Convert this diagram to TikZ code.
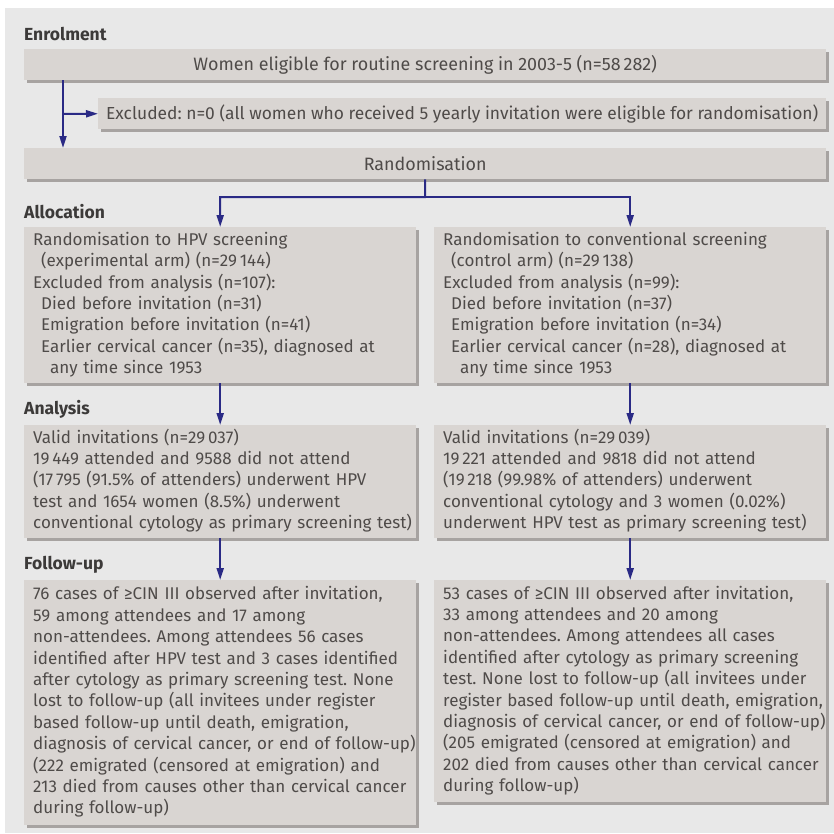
\documentclass[tikz,border=0pt]{standalone}
\usepackage{fontspec}
\setmainfont{Fira Sans}
\frenchspacing
\usetikzlibrary{arrows.meta,shadows}
\definecolor{panelgrey}{HTML}{E8E8E8}
\definecolor{boxgrey}{HTML}{D9D5D2}
\definecolor{shadowgrey}{HTML}{A7A3A1}
\definecolor{txtgrey}{HTML}{4F4B49}
\definecolor{headgrey}{HTML}{3C3A39}
\definecolor{arrowblue}{HTML}{2A2A85}
\newcommand{\boxlines}[1]{\begin{tabular}{@{}l@{}}#1\end{tabular}}
\begin{document}
\begin{tikzpicture}[x=1pt,y=-1pt,
	box/.style={fill=boxgrey, anchor=north west, inner xsep=9pt, inner ysep=0pt, text=txtgrey,
		font=\fontsize{17.9}{21.4}\selectfont,
		general shadow={fill=shadowgrey, shadow xshift=3pt, shadow yshift=-3pt}},
	armbox/.style={box, text width=374pt, minimum width=392pt, align=left,
		font=\fontsize{17}{21.4}\selectfont},
	head/.style={anchor=west, inner sep=0pt, text=headgrey, font=\fontsize{17.5}{19}\selectfont\bfseries},
	arr/.style={draw=arrowblue, line width=2pt, -{Triangle[length=12pt,width=7pt]}}]
	\useasboundingbox (0,0) rectangle (834,833);
	\fill[white] (0,0) rectangle (834,833);
	\fill[panelgrey] (5,8) rectangle (834,833);

	\node[head] (enrolhd) at (24,34) {Enrolment};
	\node[box, minimum width=802pt, minimum height=31pt] (enrol) at (24,49) {Women eligible for routine screening in 2003-5 (n=58\,282)};
	\node[box, minimum width=728pt, minimum height=31pt, inner xsep=6pt, font=\fontsize{17.4}{21.4}\selectfont] (excl) at (98,98) {Excluded: n=0 (all women who received 5 yearly invitation were eligible for randomisation)};
	\node[box, minimum width=802pt, minimum height=31pt] (rand) at (24,148) {Randomisation};
	\coordinate (trunk) at (63,114);
	\coordinate (split) at (425,197);

	\node[head] (allochd) at (24,212) {Allocation};
	\node[armbox, minimum height=156pt] (hpv) at (24,227) {\boxlines{Randomisation to HPV screening\\
		\hspace*{8pt}(experimental arm) (n=29\,144)\\
		Excluded from analysis (n=107):\\
		\hspace*{8pt}Died before invitation (n=31)\\
		\hspace*{8pt}Emigration before invitation (n=41)\\
		\hspace*{8pt}Earlier cervical cancer (n=35), diagnosed at\\
		\hspace*{17pt}any time since 1953}};
	\node[armbox, minimum height=156pt] (conv) at (434,227) {\boxlines{Randomisation to conventional screening\\
		\hspace*{8pt}(control arm) (n=29\,138)\\
		Excluded from analysis (n=99):\\
		\hspace*{8pt}Died before invitation (n=37)\\
		\hspace*{8pt}Emigration before invitation (n=34)\\
		\hspace*{8pt}Earlier cervical cancer (n=28), diagnosed at\\
		\hspace*{17pt}any time since 1953}};

	\node[head] (analhd) at (24,409) {Analysis};
	\node[armbox, minimum height=113pt] (hpvinv) at (24,425) {\boxlines{Valid invitations (n=29\,037)\\
		19\,449 attended and 9588 did not attend\\
		(17\,795 (91.5\% of attenders) underwent HPV\\
		test and 1654 women (8.5\%) underwent\\
		conventional cytology as primary screening test)}};
	\node[armbox, minimum height=113pt] (convinv) at (434,425) {\boxlines{Valid invitations (n=29\,039)\\
		19\,221 attended and 9818 did not attend\\
		(19\,218 (99.98\% of attenders) underwent\\
		conventional cytology and 3 women (0.02\%)\\
		underwent HPV test as primary screening test)}};

	\node[head] (fuhd) at (24,565) {Follow-up};
	\node[armbox, minimum height=245pt] (hpvfu) at (24,580) {\boxlines{76 cases of ≥CIN III observed after invitation,\\
		59 among attendees and 17 among\\
		non-attendees. Among attendees 56 cases\\
		identified after HPV test and 3 cases identified\\
		after cytology as primary screening test. None\\
		lost to follow-up (all invitees under register\\
		based follow-up until death, emigration,\\
		diagnosis of cervical cancer, or end of follow-up)\\
		(222 emigrated (censored at emigration) and\\
		213 died from causes other than cervical cancer\\
		during follow-up)}};
	\node[armbox, minimum height=222pt] (convfu) at (434,580) {\boxlines{53 cases of ≥CIN III observed after invitation,\\
		33 among attendees and 20 among\\
		non-attendees. Among attendees all cases\\
		identified after cytology as primary screening\\
		test. None lost to follow-up (all invitees under\\
		register based follow-up until death, emigration,\\
		diagnosis of cervical cancer, or end of follow-up)\\
		(205 emigrated (censored at emigration) and\\
		202 died from causes other than cervical cancer\\
		during follow-up)}};

	\draw[arr] (trunk |- enrol.south) -- (trunk |- rand.north);
	\draw[arr] (trunk) -- (excl.west);
	\draw[arr] (rand.south) -- (split) -| (hpv.north);
	\draw[arr] (split) -| (conv.north);
	\draw[arr] (hpv.south) -- (hpvinv.north);
	\draw[arr] (conv.south) -- (convinv.north);
	\draw[arr] (hpvinv.south) -- (hpvfu.north);
	\draw[arr] (convinv.south) -- (convfu.north);
\end{tikzpicture}
\end{document}
